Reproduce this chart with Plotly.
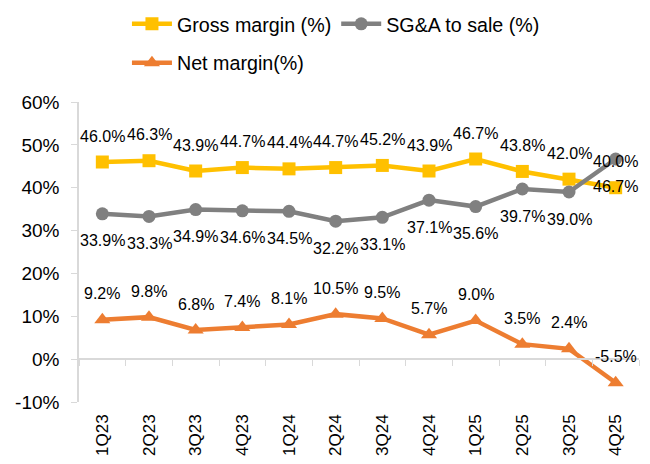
import plotly.graph_objects as go

quarters = ["1Q23", "2Q23", "3Q23", "4Q23", "1Q24", "2Q24", "3Q24", "4Q24",
            "1Q25", "2Q25", "3Q25", "4Q25"]
gross_margin = [46.0, 46.3, 43.9, 44.7, 44.4, 44.7, 45.2, 43.9, 46.7, 43.8, 42.0, 40.0]
sga_to_sale = [33.9, 33.3, 34.9, 34.6, 34.5, 32.2, 33.1, 37.1, 35.6, 39.7, 39.0, 46.7]
net_margin = [9.2, 9.8, 6.8, 7.4, 8.1, 10.5, 9.5, 5.7, 9.0, 3.5, 2.4, -5.5]
y_tick_vals = [-10, 0, 10, 20, 30, 40, 50, 60]
y_tick_text = ["-10%", "0%", "10%", "20%", "30%", "40%", "50%", "60%"]

FONT = "Liberation Sans, Arial, sans-serif"

fig = go.Figure()
fig.add_trace(go.Scatter(
    x=quarters, y=gross_margin, name="Gross margin (%)", mode="lines+markers",
    line=dict(color="#FFC000", width=4.5), marker=dict(symbol="square", size=13, color="#FFC000"),
    legend="legend", cliponaxis=False))
fig.add_trace(go.Scatter(
    x=quarters, y=sga_to_sale, name="SG&A to sale (%)", mode="lines+markers",
    line=dict(color="#808080", width=4.5), marker=dict(symbol="circle", size=13, color="#808080"),
    legend="legend", cliponaxis=False))
fig.add_trace(go.Scatter(
    x=quarters, y=net_margin, name="Net margin(%)", mode="lines+markers",
    line=dict(color="#ED7D31", width=4.5), marker=dict(symbol="triangle-up", size=14, color="#ED7D31"),
    legend="legend2", cliponaxis=False))
# invisible trace on overlay axis drawing the category axis line at zero
fig.add_trace(go.Scatter(x=quarters, y=[None]*len(quarters), xaxis="x2", showlegend=False,
                         hoverinfo="skip"))

# data labels
for vals, shift in ((gross_margin, 26), (sga_to_sale, -27), (net_margin, 26)):
    for q, v in zip(quarters, vals):
        fig.add_annotation(x=q, y=v, text=f"{v:.1f}%", showarrow=False, yshift=shift,
                           font=dict(size=16, color="#000000", family=FONT))

y0, y1 = -10, 60
zero_pos = (0 - y0) / (y1 - y0)

fig.update_layout(
    width=650, height=464,
    margin=dict(l=71, r=19, t=94, b=70, autoexpand=False),
    paper_bgcolor="white", plot_bgcolor="white",
    font=dict(family=FONT, size=17, color="#000000"),
    showlegend=True,
    legend=dict(orientation="h", x=0.183, y=0.9655, xref="container", yref="container",
                xanchor="left", yanchor="middle",
                font=dict(size=19.7, family=FONT), itemwidth=40, tracegroupgap=0,
                bgcolor="rgba(0,0,0,0)"),
    legend2=dict(orientation="h", x=0.183, y=0.8815, xref="container", yref="container",
                 xanchor="left", yanchor="middle",
                 font=dict(size=19.7, family=FONT), itemwidth=40,
                 bgcolor="rgba(0,0,0,0)"),
    xaxis=dict(type="category", categoryorder="array", categoryarray=quarters,
               showline=False, ticks="", tickangle=-90, showgrid=False, zeroline=False,
               tickfont=dict(size=17, family=FONT), range=[-0.5, 11.5], automargin=False,
               ticklabelstandoff=8),
    xaxis2=dict(type="category", categoryorder="array", categoryarray=quarters,
                overlaying="x", anchor="free", position=zero_pos, side="bottom",
                showline=True, linecolor="#D9D9D9", linewidth=1.5, ticks="outside",
                tickson="boundaries", ticklen=6, tickcolor="#D9D9D9", showticklabels=False,
                showgrid=False, range=[-0.5, 11.5], automargin=False),
    yaxis=dict(range=[y0, y1], tickvals=y_tick_vals, ticktext=y_tick_text,
               showgrid=False, zeroline=False, automargin=False,
               showline=True, linecolor="#D9D9D9", linewidth=1.5, ticks="outside",
               ticklen=6, tickcolor="#D9D9D9", tickfont=dict(size=19, family=FONT),
               ticklabelstandoff=8),
)

fig.write_html("out.html")
